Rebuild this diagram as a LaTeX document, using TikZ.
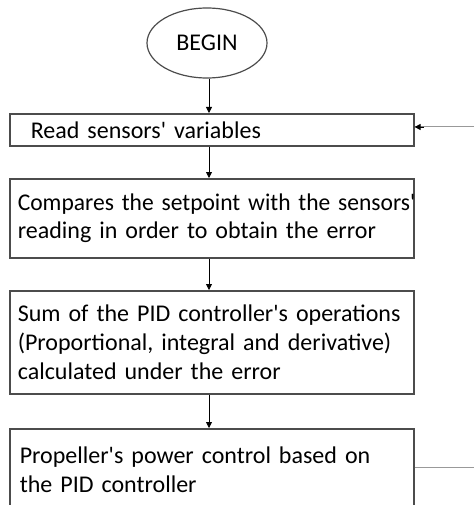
\documentclass[tikz,border=0pt]{standalone}
\usepackage{fontspec}
\usepackage{graphicx}
\setmainfont{Carlito}[Ligatures=TeXOff]
\usetikzlibrary{arrows.meta,shapes.geometric}
\begin{document}
\begin{tikzpicture}[x=1pt,y=-1pt,
  box/.style={draw=black!70,line width=1.6pt,rectangle,minimum width=404pt,align=left,anchor=north west,font=\fontsize{24}{29}\selectfont,text=black},
  flow/.style={draw=black,line width=0.8pt,-{Triangle[width=6pt,length=6pt]}},
  fb/.style={draw=black!40,line width=1pt}]
\clip (0,0) rectangle (474,505);
\node[draw=black!70,line width=1.2pt,ellipse,minimum width=120pt,minimum height=70pt,font=\fontsize{24}{28}\selectfont,text=black] (begin) at (207,43) {BEGIN};
\node[box,minimum height=32pt,text width=362pt,inner xsep=21pt] (b1) at (9,113) {Read sensors' variables};
\node[box,minimum height=79pt,text width=388pt,inner xsep=8pt] (b2) at (9,178) {\scalebox{0.98}[1]{Compares the setpoint with the sensors'}\\[-1pt]reading in order to obtain the error};
\node[box,minimum height=103pt,text width=388pt,inner xsep=8pt] (b3) at (9,290) {\mbox{Sum of the PID controller's operations}\\\mbox{(Proportional, integral and derivative)}\\calculated under the error};
\node[box,minimum height=82pt,text width=384pt,inner xsep=10pt] (b4) at (9,428) {Propeller's power control based on\\the PID controller};
\coordinate (fbin) at (474,127);
\coordinate (fbout) at (474,467);
\draw[flow] (begin.south -| 209,0) -- (b1.north -| 209,0);
\draw[flow] (b1.south -| 209,0) -- (b2.north -| 209,0);
\draw[flow] (b2.south -| 209,0) -- (b3.north -| 209,0);
\draw[flow] (b3.south -| 209,0) -- (b4.north -| 209,0);
\draw[fb] (fbin) -- (fbin -| b1.east);
\draw[-{Triangle[width=6pt,length=6pt]},draw=black,fill=black,line width=0.8pt] (fbin -| 424,0) -- (fbin -| b1.east);
\draw[fb] (b4.east |- fbout) -- (fbout);
\end{tikzpicture}
\end{document}
